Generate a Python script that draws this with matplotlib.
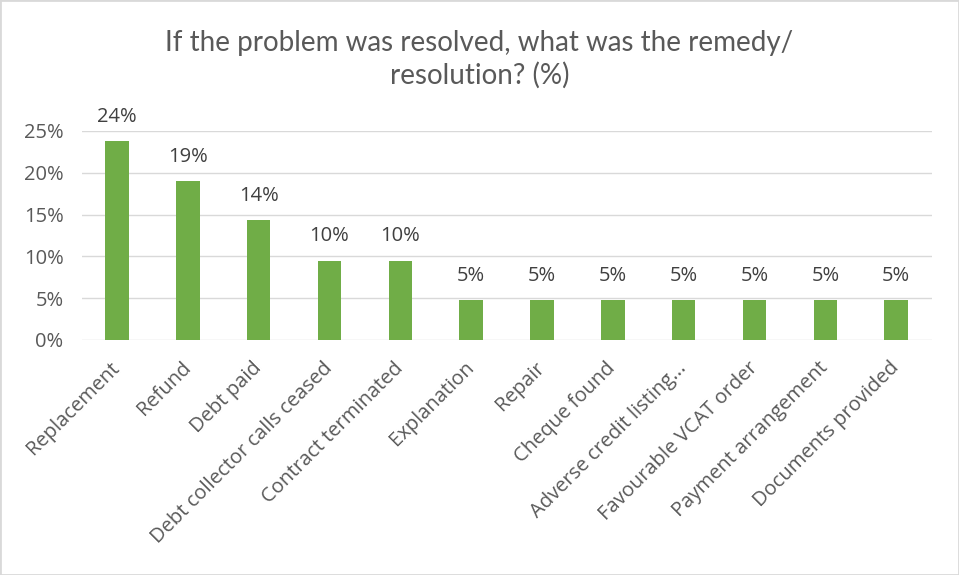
import matplotlib.pyplot as plt
from matplotlib.ticker import FuncFormatter
from matplotlib.patches import Rectangle

# Survey results (share of resolved problems, %)
categories = [
    "Replacement", "Refund", "Debt paid", "Debt collector calls ceased",
    "Contract terminated", "Explanation", "Repair", "Cheque found",
    "Adverse credit listing...", "Favourable VCAT order",
    "Payment arrangement", "Documents provided",
]
shares = [23.8, 19.0, 14.3, 9.5, 9.5, 4.8, 4.8, 4.8, 4.8, 4.8, 4.8, 4.8]
y_ticks = [0, 5, 10, 15, 20, 25]

text_color = "#595959"
plt.rcParams["font.family"] = ["Open Sans", "DejaVu Sans"]

fig = plt.figure(figsize=(9.59, 5.75), dpi=100)
ax = fig.add_axes([0.0851, 0.4087, 0.8863, 0.3635])

x = range(len(categories))
ax.bar(x, shares, width=0.33, color="#70AD47", zorder=3)

for i, v in zip(x, shares):
    ax.text(i, v + 1.7, f"{v:.0f}%", ha="center", va="bottom",
            fontsize=14.5, color="#404040")

ax.set_xlim(-0.5, len(categories) - 0.5)
ax.set_ylim(0, 25)
ax.set_yticks(y_ticks)
ax.yaxis.set_major_formatter(FuncFormatter(lambda v, p: f"{v:.0f}%"))
ax.grid(axis="y", color="#D9D9D9", linewidth=1, zorder=0)

ax.set_xticks(list(x))
ax.set_xticklabels(categories, rotation=45, ha="right", va="center",
                   rotation_mode="anchor")
ax.tick_params(axis="both", length=0, labelsize=14.5, colors=text_color)
ax.tick_params(axis="y", pad=13)
ax.tick_params(axis="x", pad=18)

for s in ax.spines.values():
    s.set_visible(False)

fig.text(0.5, 0.897, "If the problem was resolved, what was the remedy/\nresolution? (%)",
         ha="center", va="center", fontsize=20, color=text_color,
         linespacing=1.3, family=["Lato", "DejaVu Sans"])

# light chart frame
fig.patches.append(Rectangle((0, 0), 1, 1, transform=fig.transFigure,
                             fill=False, edgecolor="#D9D9D9", linewidth=2))

fig.savefig("out.png", dpi=100)
